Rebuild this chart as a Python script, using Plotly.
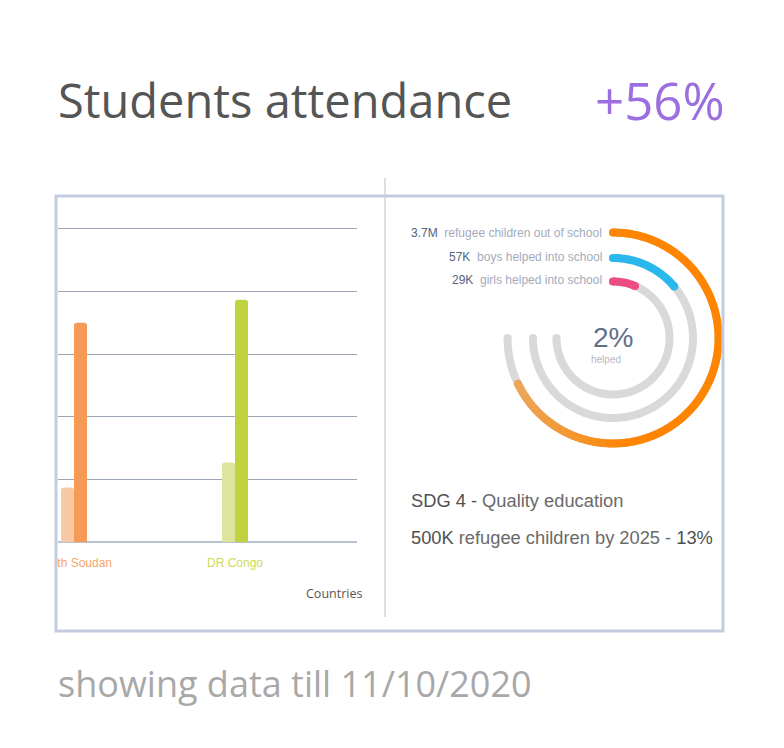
import numpy as np
import plotly.graph_objects as go

W, H = 784, 748


def px(x):
    return x / W


def py(y):
    return 1 - y / H


# ---------------- data ----------------
countries = ["South Soudan", "DR Congo"]
attendance_before = [0.87, 1.27]
attendance_after = [3.50, 3.87]

ring_values = ["3.7M", "57K", "29K"]
ring_labels = ["refugee children out of school", "boys helped into school", "girls helped into school"]
ring_progress = [90.5, 18.5, 8.5]  # percent of the 270 degree track

title_text = "Students attendance"
headline_value = "+56%"
helped_value = "2%"
footer_text = "showing data till 11/10/2020"
sdg_line1 = ("SDG 4 -", "Quality education")
sdg_line2 = ("500K", "refugee children by 2025 -", "13%")

# ---------------- styles ----------------
bar_colors_before = ["#f9c9a6", "#dde59c"]
bar_colors_after = ["#f59b56", "#c0d23e"]
label_colors = ["#f8a66a", "#cbdb55"]
ring_colors = ["#ff8400", "#29b8ec", "#ee4d82"]
ring_light = "#eaa860"
track_color = "#d9d9d9"
RING_R = [105.5, 80, 56.5]
SWEEP = 270
STROKE = 8
CX, CY = 613, 338

fig = go.Figure()

# ---------------- bars ----------------
fig.add_trace(go.Bar(x=countries, y=attendance_before, marker=dict(color=bar_colors_before, line_width=0),
                     xaxis="x", yaxis="y", showlegend=False, hoverinfo="skip"))
fig.add_trace(go.Bar(x=countries, y=attendance_after, marker=dict(color=bar_colors_after, line_width=0),
                     xaxis="x", yaxis="y", showlegend=False, hoverinfo="skip"))


# ---------------- radial bars ----------------
def hex2rgb(h):
    h = h.lstrip("#")
    return [int(h[i:i + 2], 16) for i in (0, 2, 4)]


def mix(c1, c2, t):
    a, b = hex2rgb(c1), hex2rgb(c2)
    return "rgb(%d,%d,%d)" % tuple(round(a[i] + (b[i] - a[i]) * t) for i in range(3))


def arc(r, a0, a1, color):
    n = max(2, int(np.ceil(abs(a1 - a0))) + 1)
    th = np.linspace(a0, a1, n)
    fig.add_trace(go.Scatterpolar(r=[r] * n, theta=th, mode="lines",
                                  line=dict(color=color, width=STROKE),
                                  cliponaxis=False, showlegend=False, hoverinfo="skip"))


def cap(r, a, color):
    fig.add_trace(go.Scatterpolar(r=[r], theta=[a], mode="markers",
                                  marker=dict(color=color, size=STROKE, line_width=0),
                                  cliponaxis=False, showlegend=False, hoverinfo="skip"))


for i, r in enumerate(RING_R):
    arc(r, 0, SWEEP, track_color)
    cap(r, 0, track_color)
    cap(r, SWEEP, track_color)

for i, r in enumerate(RING_R):
    end = SWEEP * ring_progress[i] / 100.0
    if i == 0:
        # colour fades to a lighter orange on the left side (horizontal gradient)
        steps = np.arange(0, end + 1e-9, 2.0)
        if steps[-1] < end:
            steps = np.append(steps, end)
        cols = []
        for k in range(len(steps) - 1):
            mid = np.radians((steps[k] + steps[k + 1]) / 2)
            xpix = CX + r * np.sin(mid)
            t = float(np.clip((xpix - 512) / (628 - 512), 0, 1))
            cols.append(mix(ring_light, ring_colors[0], t))
        k = 0
        while k < len(cols):
            j = k
            while j + 1 < len(cols) and cols[j + 1] == cols[k]:
                j += 1
            a0 = steps[k]
            a1 = min(steps[j + 1] + 0.8, end)
            arc(r, a0, a1, cols[k])
            k = j + 1
        cap(r, 0, ring_colors[0])
        cap(r, end, cols[-1])
    else:
        arc(r, 0, end, ring_colors[i])
        cap(r, 0, ring_colors[i])
        cap(r, end, ring_colors[i])

# ---------------- layout ----------------
ticktext = ["<span style='color:%s'>%s</span>" % (label_colors[i], c) for i, c in enumerate(countries)]

fig.update_layout(
    width=W, height=H, margin=dict(l=0, r=0, t=0, b=0, autoexpand=False),
    paper_bgcolor="white", plot_bgcolor="rgba(0,0,0,0)",
    barmode="group", bargap=0.8385, bargroupgap=0, barcornerradius=3,
    hovermode=False,
    xaxis=dict(domain=[px(58), px(357)], type="category", categoryorder="array", categoryarray=countries,
               range=[-0.0994, 1.758], showgrid=False, zeroline=False, showline=False,
               tickmode="array", tickvals=countries, ticktext=ticktext, ticks="",
               tickfont=dict(family="Liberation Sans, Arial", size=12), ticklabelstandoff=12,
               automargin=False, fixedrange=True),
    yaxis=dict(domain=[py(542), py(222.7)], range=[0, 5.1], dtick=1, showgrid=True,
               gridcolor="#9ca6b6", gridwidth=1.3, zeroline=True, zerolinecolor="#b7c1d1", zerolinewidth=2,
               showticklabels=False, ticks="", showline=False, automargin=False, fixedrange=True),
    polar=dict(domain=dict(x=[px(CX - 110), px(CX + 110)], y=[py(CY + 110), py(CY - 110)]),
               bgcolor="rgba(0,0,0,0)",
               radialaxis=dict(range=[0, 110], visible=False),
               angularaxis=dict(rotation=90, direction="clockwise", visible=False)),
    showlegend=False,
)

shapes = [
    dict(type="rect", xref="paper", yref="paper", x0=0, x1=px(54), y0=py(585), y1=py(545),
         fillcolor="white", line_width=0, layer="above"),
    dict(type="line", xref="paper", yref="paper", x0=px(385), x1=px(385), y0=py(178), y1=py(617),
         line=dict(color="#d4d4d4", width=1.5), layer="above"),
    dict(type="rect", xref="paper", yref="paper", x0=px(56), x1=px(723), y0=py(631), y1=py(196),
         line=dict(color="#c3cbdf", width=3), fillcolor="rgba(0,0,0,0)", layer="above"),
]
fig.update_layout(shapes=shapes)

ann = []
ann.append(dict(text=title_text, x=px(56), y=py(100), xanchor="left", yanchor="middle",
                font=dict(family="Open Sans", size=47, color="#555555")))
ann.append(dict(text=headline_value, x=px(727), y=py(100), xanchor="right", yanchor="middle",
                font=dict(family="Open Sans", size=51, color="#9b6fe0")))
ann.append(dict(text=footer_text, x=px(56), y=py(683), xanchor="left", yanchor="middle",
                font=dict(family="Open Sans", size=36, color="#a8a8a8")))
ann.append(dict(text="Countries", x=px(364), y=py(593), xanchor="right", yanchor="middle",
                font=dict(family="Open Sans", size=12.5, color="#555555")))
ring_y = [233, 257, 280]
for i in range(3):
    ann.append(dict(text="<span style='color:#53627c'>%s</span>&nbsp; %s" % (ring_values[i], ring_labels[i]),
                    x=px(604), y=py(ring_y[i]), xanchor="right", yanchor="middle",
                    font=dict(family="Liberation Sans, Arial", size=12, color="#a3abbb")))
ann.append(dict(text=helped_value, x=px(613), y=py(337), xanchor="center", yanchor="middle",
                font=dict(family="Liberation Sans, Arial", size=28, color="#5f6f8a")))
ann.append(dict(text="helped", x=px(606), y=py(360), xanchor="center", yanchor="middle",
                font=dict(family="Liberation Sans, Arial", size=10, color="#b3bac7")))
ann.append(dict(text="<span style='color:#4f4f4f'>%s</span> %s" % sdg_line1,
                x=px(409), y=py(500), xanchor="left", yanchor="middle",
                font=dict(family="Liberation Sans, Arial", size=18.3, color="#6a6a6a")))
ann.append(dict(text="<span style='color:#4f4f4f'>%s</span> %s <span style='color:#4f4f4f'>%s</span>" % sdg_line2,
                x=px(409), y=py(537), xanchor="left", yanchor="middle",
                font=dict(family="Liberation Sans, Arial", size=18.3, color="#6a6a6a")))
for a in ann:
    a.update(xref="paper", yref="paper", showarrow=False)
fig.update_layout(annotations=ann)

fig.write_html("out.html")
